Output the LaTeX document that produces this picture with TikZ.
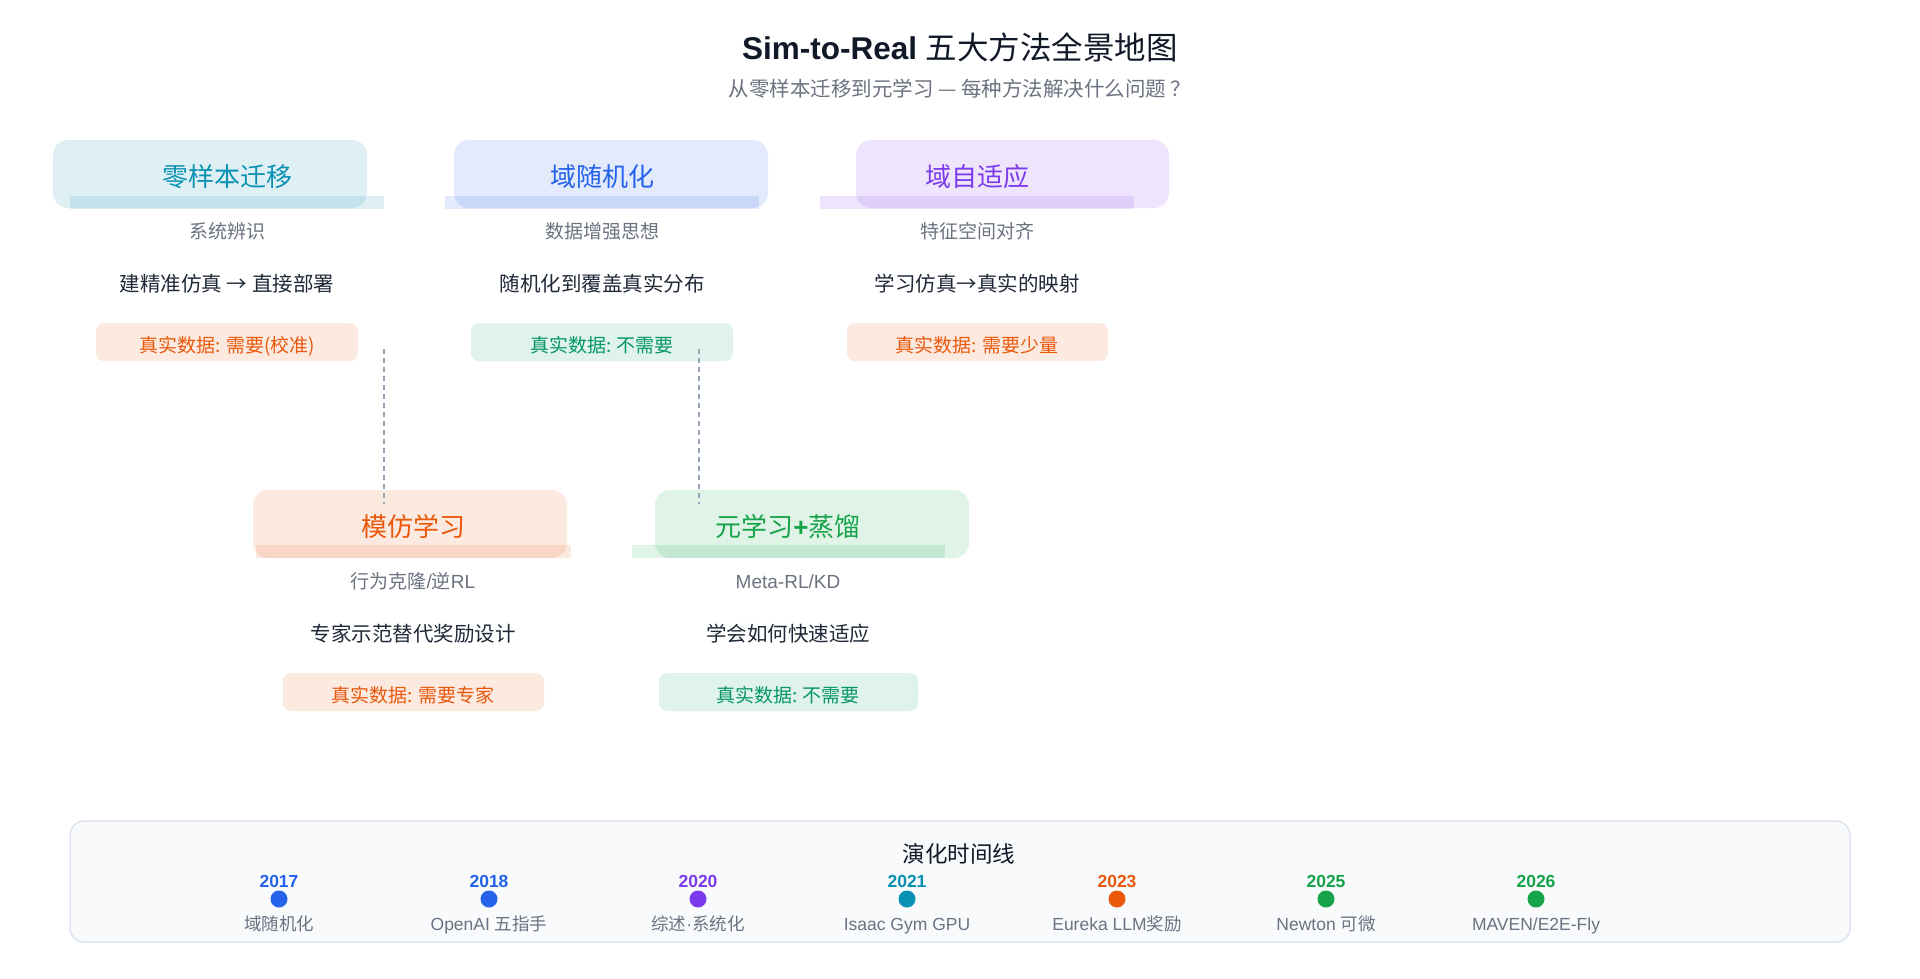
\documentclass[tikz,border=0pt]{standalone}
\usepackage{fontspec}
\setmainfont{Liberation Sans}
\newfontfamily\cjk{Noto Sans CJK SC}
\definecolor{ccyan}{HTML}{0891B2}
\definecolor{cblue}{HTML}{2563EB}
\definecolor{cpurple}{HTML}{7C3AED}
\definecolor{corange}{HTML}{EA580C}
\definecolor{cgreen}{HTML}{16A34A}
\definecolor{cemerald}{HTML}{059669}
\definecolor{cgrey}{HTML}{6B7280}
\definecolor{cdark}{HTML}{1F2937}
\definecolor{ctitle}{HTML}{111827}
\definecolor{cdash}{HTML}{94A3B8}
\definecolor{tlfill}{HTML}{F8FAFC}
\definecolor{tlborder}{HTML}{DCE4EF}
\tikzset{
  hbox/.style={rounded corners=15pt, fill=#1, fill opacity=0.13, draw=none},
  hstrip/.style={fill=#1, fill opacity=0.13, draw=none},
  badge/.style={rounded corners=8pt, fill=#1, fill opacity=0.12, draw=none},
  htitle/.style={anchor=base, inner sep=0pt, text=#1, font=\cjk\fontsize{26}{30}\selectfont},
  hsub/.style={anchor=base, inner sep=0pt, text=cgrey, font=\cjk\fontsize{19}{22}\selectfont},
  hdesc/.style={anchor=base, inner sep=0pt, text=cdark, font=\cjk\fontsize{20.5}{24}\selectfont},
  btext/.style={anchor=base, inner sep=0pt, text=#1, font=\cjk\fontsize{19}{22}\selectfont},
  conn/.style={draw=cdash, line width=1.6pt, dash pattern=on 5pt off 4pt},
  year/.style={anchor=base, inner sep=0pt, text=#1, font=\bfseries\fontsize{17.5}{20}\selectfont},
  tdot/.style={circle, fill=#1, minimum size=17pt, inner sep=0pt},
  tlabel/.style={anchor=base, inner sep=0pt, text=cgrey, font=\fontsize{17.5}{20}\selectfont},
}
\begin{document}
\begin{tikzpicture}[x=1pt,y=-1pt]
\useasboundingbox (0,0) rectangle (1920,978);
\fill[white] (0,0) rectangle (1920,978);

% title
\node[anchor=base, inner sep=0pt, text=ctitle] (title) at (960,59)
  {\fontsize{31.5}{36}\selectfont\bfseries Sim-to-Real \mdseries\cjk 五大方法全景地图};
\node[anchor=base, inner sep=0pt, text=cgrey] (subtitle) at (960,96)
  {\cjk\fontsize{20.5}{24}\selectfont 从零样本迁移到元学习 — 每种方法解决什么问题 ？};

% ---------- row 1 ----------
% card 1: zero-shot
\fill[hbox=ccyan] (53,140) rectangle (367,208);
\fill[hstrip=ccyan] (70,196) rectangle (384,209);
\node[htitle=ccyan] (t1) at (227,186) {零样本迁移};
\node[hsub] (s1) at (227,238) {系统辨识};
\node[hdesc] (d1) at (227,291.5) {建精准仿真 → 直接部署};
\fill[badge=corange] (96,323) rectangle (358,361);
\node[btext=corange] (b1) at (227,352.5) {真实数据: 需要(校准)};

% card 2: domain randomization
\fill[hbox=cblue] (454,140) rectangle (768,208);
\fill[hstrip=cblue] (445,196) rectangle (759,209);
\node[htitle=cblue] (t2) at (602,186) {域随机化};
\node[hsub] (s2) at (602,238) {数据增强思想};
\node[hdesc] (d2) at (602,291.5) {随机化到覆盖真实分布};
\fill[badge=cemerald] (471,323) rectangle (733,361);
\node[btext=cemerald] (b2) at (602,352.5) {真实数据: 不需要};

% card 3: domain adaptation
\fill[hbox=cpurple] (856,140) rectangle (1169,208);
\fill[hstrip=cpurple] (820,196) rectangle (1134,209);
\node[htitle=cpurple] (t3) at (977,186) {域自适应};
\node[hsub] (s3) at (977,238) {特征空间对齐};
\node[hdesc] (d3) at (977,291.5) {学习仿真→真实的映射};
\fill[badge=corange] (847,323) rectangle (1108,361);
\node[btext=corange] (b3) at (977,352.5) {真实数据: 需要少量};

% ---------- row 2 ----------
% card 4: imitation learning
\fill[hbox=corange] (253,490) rectangle (567,558);
\fill[hstrip=corange] (256,545) rectangle (571,558);
\node[htitle=corange] (t4) at (413,536) {模仿学习};
\node[hsub] (s4) at (413,588) {行为克隆{\rmfamily/}逆{\rmfamily RL}};
\node[hdesc] (d4) at (413,641.5) {专家示范替代奖励设计};
\fill[badge=corange] (283,673) rectangle (544,711);
\node[btext=corange] (b4) at (413,702.5) {真实数据: 需要专家};

% card 5: meta-learning + distillation
\fill[hbox=cgreen] (655,490) rectangle (969,558);
\fill[hstrip=cgreen] (632,545) rectangle (945,558);
\node[htitle=cgreen] (t5) at (788,536) {元学习{\rmfamily\bfseries +}蒸馏};
\node[hsub] (s5) at (788,588) {\rmfamily Meta-RL/KD};
\node[hdesc] (d5) at (788,641.5) {学会如何快速适应};
\fill[badge=cemerald] (659,673) rectangle (918,711);
\node[btext=cemerald] (b5) at (788,702.5) {真实数据: 不需要};

% dashed connectors
\coordinate (c1a) at (384,349);
\coordinate (c1b) at (384,504);
\coordinate (c2a) at (699,349);
\coordinate (c2b) at (699,504);
\draw[conn] (c1a) -- (c1b);
\draw[conn] (c2a) -- (c2b);

% ---------- timeline ----------
\draw[fill=tlfill, draw=tlborder, line width=1.5pt, rounded corners=14pt] (70,821) rectangle (1850,942);
\node[anchor=base, inner sep=0pt, text=ctitle] (tltitle) at (959,862)
  {\cjk\fontsize{22.5}{26}\selectfont 演化时间线};

\foreach \x/\yr/\col/\lab [count=\i] in {
  279/2017/cblue/{\cjk 域随机化},
  489/2018/cblue/{OpenAI {\cjk 五指手}},
  698/2020/cpurple/{{\cjk 综述}·{\cjk 系统化}},
  907/2021/ccyan/{Isaac Gym GPU},
  1117/2023/corange/{Eureka LLM{\cjk 奖励}},
  1326/2025/cgreen/{Newton {\cjk 可微}},
  1536/2026/cgreen/{MAVEN/E2E-Fly}} {
  \node[year=\col] (y\i) at (\x,887) {\yr};
  \node[tdot=\col] (p\i) at (\x,899) {};
  \node[tlabel] (l\i) at (\x,930) {\lab};
}
\end{tikzpicture}
\end{document}
